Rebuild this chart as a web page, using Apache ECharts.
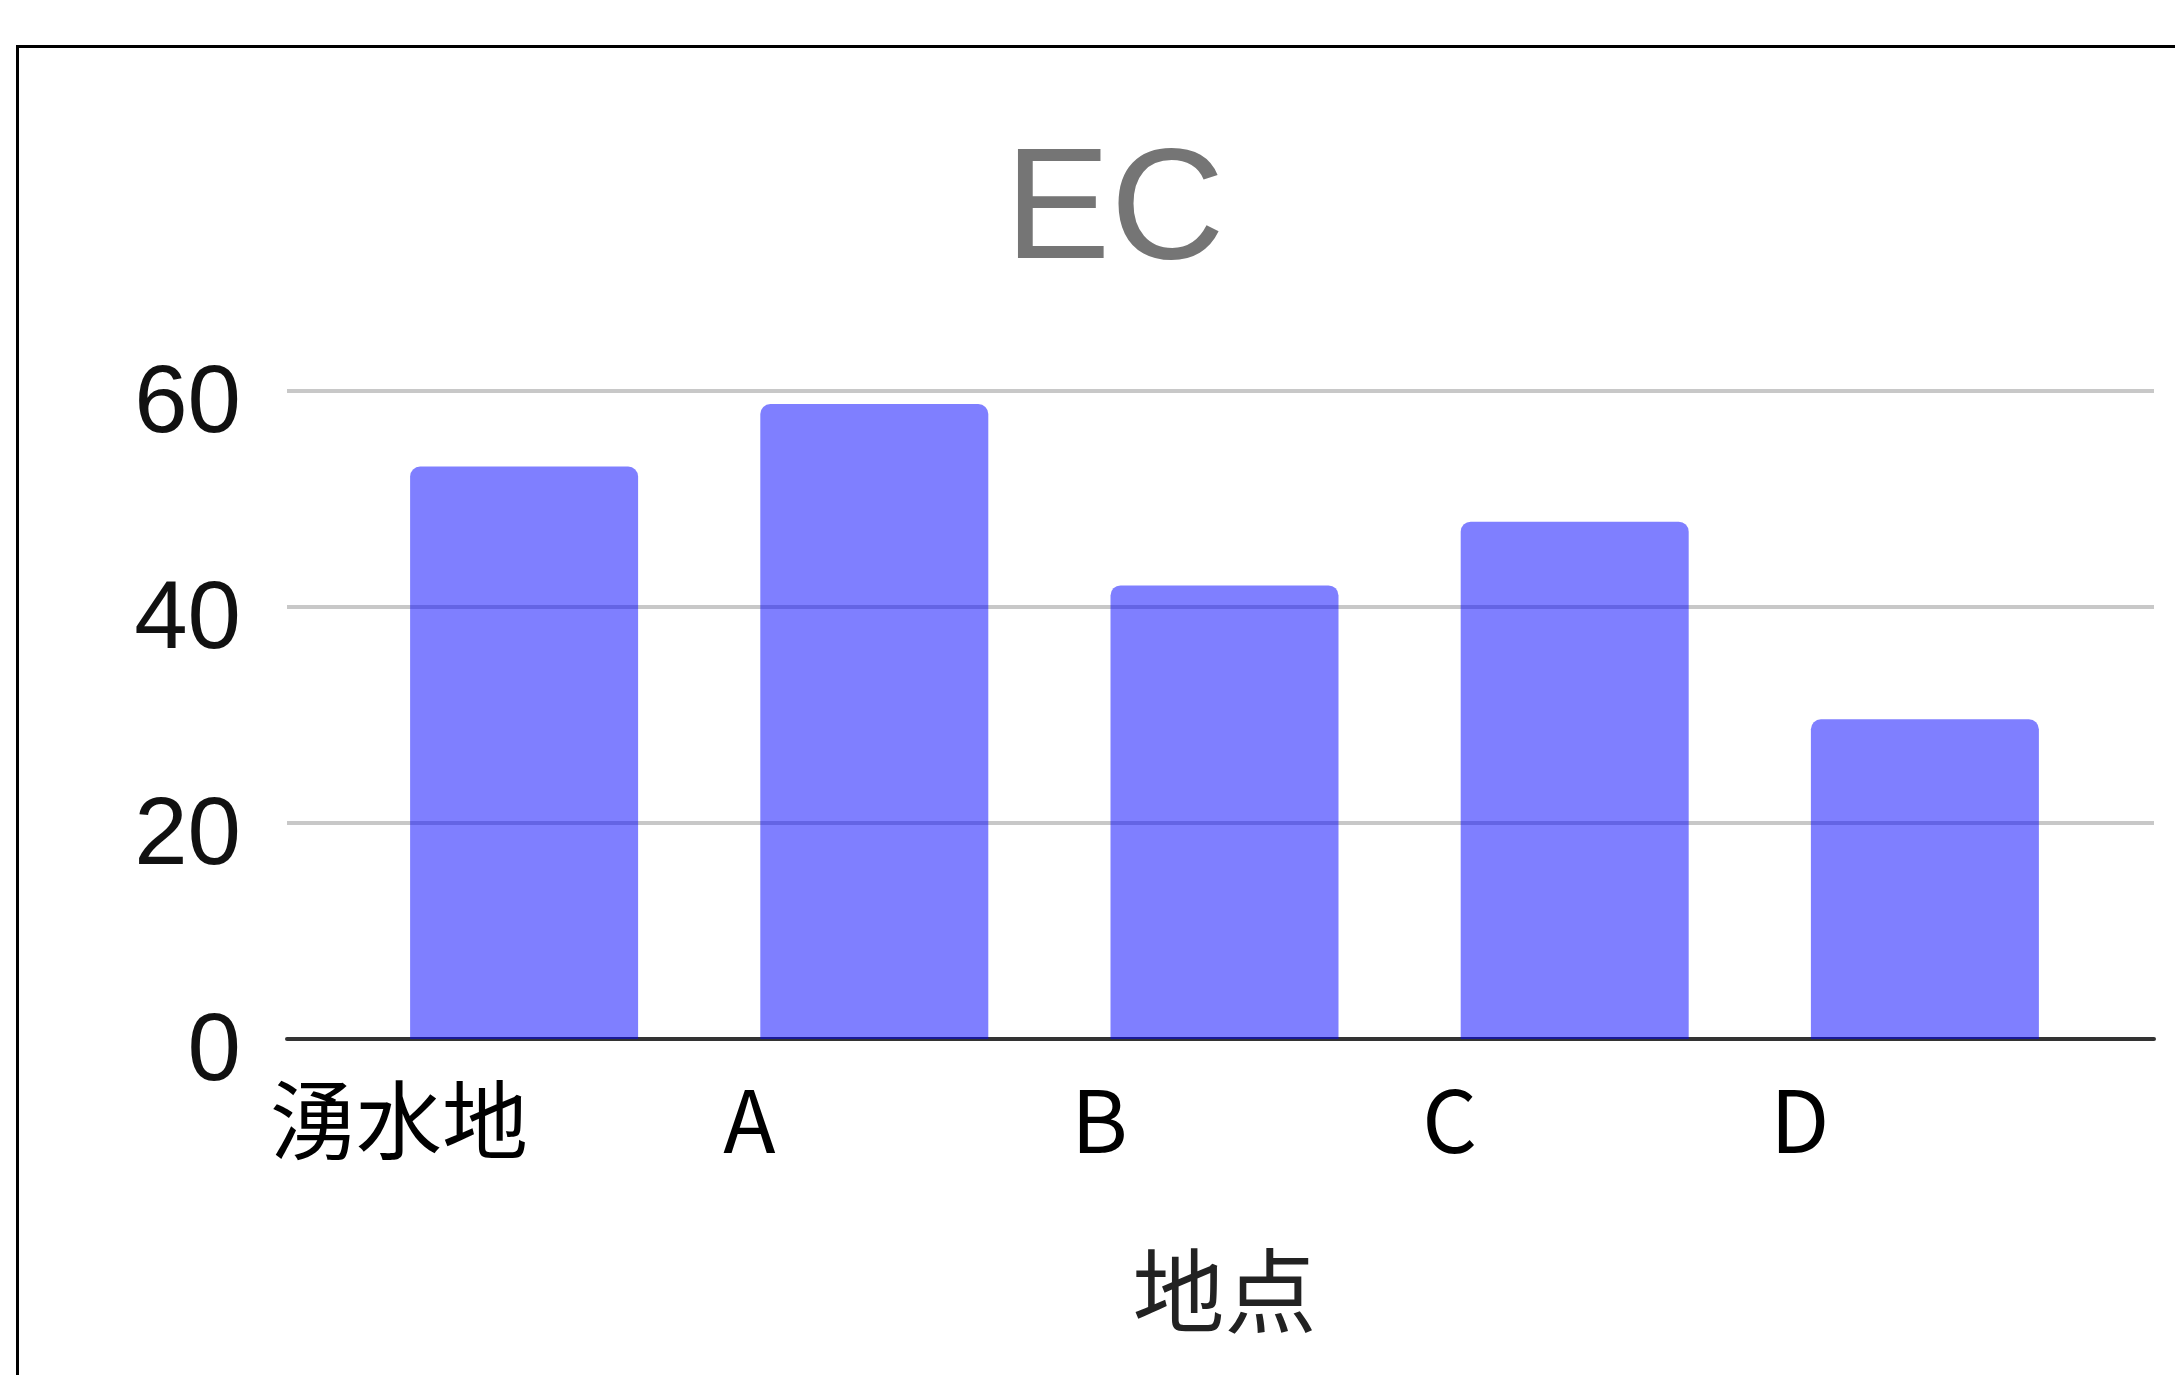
<!DOCTYPE html>
<html>
<head>
<meta charset="utf-8">
<script src="https://cdn.jsdelivr.net/npm/echarts@6/dist/echarts.min.js"></script>
<style>
  html, body { margin: 0; padding: 0; background: #fff; }
  #frame {
    position: absolute; left: 16px; top: 45px; width: 2300px; height: 1500px;
    border-left: 3px solid #000; border-top: 3px solid #000;
  }
  #chart { position: absolute; left: 0; top: 0; width: 2175px; height: 1375px; }
</style>
</head>
<body>
<div id="frame"></div>
<div id="chart"></div>
<script>
// 地点ごとの EC
const places = ['湧水地', 'A', 'B', 'C', 'D'];
const ecValues = [53.0, 58.8, 42.0, 47.9, 29.6];
const yTicks = { min: 0, max: 60, interval: 20 };

const chart = echarts.init(document.getElementById('chart'));

const option = {
  animation: false,
  title: {
    text: 'EC',
    left: 1000,
    top: 130,
    textStyle: { fontFamily: 'Liberation Sans', fontSize: 158, fontWeight: 'normal', color: '#757575' }
  },
  grid: [
    // bars
    { left: 349, right: 75, top: 391, bottom: 336 },
    // gridlines + y labels
    { left: 287, right: 21, top: 391, bottom: 336 }
  ],
  xAxis: [
    {
      type: 'category',
      gridIndex: 0,
      data: places,
      name: '地点',
      nameLocation: 'middle',
      nameGap: 206,
      nameTextStyle: { fontFamily: 'Noto Sans CJK JP', fontSize: 92, color: '#222' },
      axisLine: { show: false },
      axisTick: { show: false },
      axisLabel: {
        margin: 38,
        padding: [0, 250, 0, 0],
        fontFamily: 'Noto Sans CJK JP',
        fontSize: 86,
        color: '#000'
      }
    },
    {
      type: 'value',
      gridIndex: 1,
      min: 0,
      max: 1,
      axisLine: { show: true, lineStyle: { color: '#333', width: 4 } },
      axisTick: { show: false },
      axisLabel: { show: false },
      splitLine: { show: false }
    }
  ],
  yAxis: [
    {
      type: 'value',
      gridIndex: 0,
      min: yTicks.min,
      max: yTicks.max,
      interval: yTicks.interval,
      show: false,
      splitLine: { show: false }
    },
    {
      type: 'value',
      gridIndex: 1,
      min: yTicks.min,
      max: yTicks.max,
      interval: yTicks.interval,
      axisLine: { show: false },
      axisTick: { show: false },
      axisLabel: {
        margin: 46,
        verticalAlign: 'top',
        lineHeight: 30,
        fontFamily: 'Liberation Sans',
        fontSize: 96,
        color: '#111'
      },
      splitLine: { lineStyle: { color: '#c8c8c8', width: 4 } }
    }
  ],
  series: [
    {
      type: 'bar',
      xAxisIndex: 0,
      yAxisIndex: 0,
      data: ecValues,
      barWidth: 228,
      itemStyle: { color: 'rgba(0, 0, 255, 0.5)', borderRadius: [10, 10, 0, 0] }
    }
  ]
};

chart.setOption(option);
</script>
</body>
</html>
